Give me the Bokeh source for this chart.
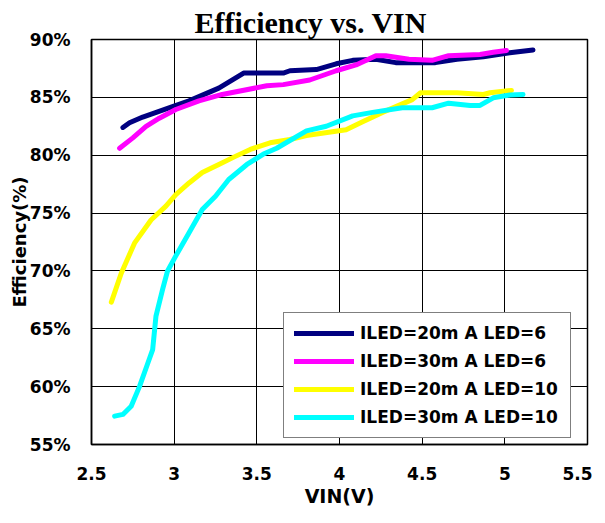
from bokeh.plotting import figure
from bokeh.models import Range1d, FixedTicker, PrintfTickFormatter, Legend, LegendItem
from bokeh.embed import file_html
from bokeh.resources import INLINE

# ---- data ----
x_20ma_6 = [2.69, 2.73, 2.81, 2.99, 3.09, 3.27, 3.42, 3.66, 3.70, 3.86, 3.98, 4.08, 4.22, 4.34, 4.58, 4.71, 4.87, 5.03, 5.17]
y_20ma_6 = [82.4, 82.8, 83.3, 84.2, 84.7, 85.8, 87.1, 87.1, 87.3, 87.4, 87.9, 88.2, 88.3, 88.0, 88.0, 88.3, 88.5, 88.85, 89.1]

x_30ma_6 = [2.67, 2.75, 2.83, 2.91, 3.01, 3.15, 3.29, 3.56, 3.66, 3.82, 3.98, 4.10, 4.22, 4.28, 4.42, 4.56, 4.66, 4.85, 4.93, 5.01]
y_30ma_6 = [80.6, 81.5, 82.5, 83.2, 83.95, 84.7, 85.25, 86.0, 86.1, 86.5, 87.3, 87.8, 88.6, 88.6, 88.3, 88.2, 88.6, 88.7, 88.9, 89.05]

x_20ma_10 = [2.62, 2.68, 2.76, 2.86, 2.95, 3.01, 3.09, 3.17, 3.27, 3.37, 3.46, 3.58, 3.70, 3.80, 4.04, 4.14, 4.26, 4.44, 4.49, 4.71, 4.87, 4.91, 5.04]
y_20ma_10 = [67.3, 69.8, 72.4, 74.4, 75.6, 76.6, 77.6, 78.5, 79.2, 79.9, 80.5, 81.07, 81.36, 81.7, 82.2, 82.9, 83.7, 84.8, 85.4, 85.4, 85.25, 85.4, 85.6]

x_30ma_10 = [2.64, 2.69, 2.74, 2.79, 2.84, 2.87, 2.89, 2.93, 2.96, 3.01, 3.09, 3.17, 3.25, 3.33, 3.44, 3.54, 3.62, 3.80, 3.92, 4.08, 4.20, 4.38, 4.56, 4.66, 4.79, 4.85, 4.93, 5.03, 5.11]
y_30ma_10 = [57.45, 57.6, 58.3, 60.0, 62.0, 63.2, 66.1, 68.4, 70.0, 71.3, 73.3, 75.3, 76.45, 77.9, 79.2, 80.1, 80.6, 82.1, 82.5, 83.4, 83.7, 84.1, 84.1, 84.5, 84.3, 84.3, 84.96, 85.2, 85.25]

series_labels = ["ILED=20m A LED=6", "ILED=30m A LED=6", "ILED=20m A LED=10", "ILED=30m A LED=10"]
series_colors = ["#000080", "#FF00FF", "#FFFF00", "#00FFFF"]

x_ticks = [2.5, 3, 3.5, 4, 4.5, 5, 5.5]
y_ticks = [55, 60, 65, 70, 75, 80, 85, 90]

SANS = "DejaVu Sans"

p = figure(frame_width=496, frame_height=405,
           min_border_left=91, min_border_right=5, min_border_top=39, min_border_bottom=63,
           output_backend="svg", toolbar_location=None,
           x_range=Range1d(2.5, 5.5), y_range=Range1d(55, 90),
           title="Efficiency vs. VIN")

p.title.text_font = "Liberation Serif"
p.title.text_font_size = "30px"
p.title.text_font_style = "bold"
p.title.align = "left"
p.title.offset = 103
p.title.standoff = 0
p.title.vertical_align = "middle"
p.title.text_color = "black"

p.outline_line_color = "black"
p.outline_line_width = 1.5

for ax in (p.xaxis[0], p.yaxis[0]):
    ax.major_tick_in = 0
    ax.major_tick_out = 0
    ax.minor_tick_in = 0
    ax.minor_tick_out = 0
    ax.axis_line_color = "black"
    ax.axis_line_width = 1.5
    ax.major_label_text_font = SANS
    ax.major_label_text_font_style = "bold"
    ax.major_label_text_font_size = "17px"
    ax.major_label_text_color = "black"
    ax.axis_label_text_font = SANS
    ax.axis_label_text_font_style = "bold"
    ax.axis_label_text_color = "black"

p.xaxis.ticker = FixedTicker(ticks=x_ticks)
p.yaxis.ticker = FixedTicker(ticks=y_ticks)
p.xaxis.formatter = PrintfTickFormatter(format="%g")
p.yaxis.formatter = PrintfTickFormatter(format="%d%%")
p.xaxis.axis_label = "VIN(V)"
p.yaxis.axis_label = "Efficiency(%)"
p.xaxis.axis_label_text_font_size = "19px"
p.yaxis.axis_label_text_font_size = "18px"
p.xaxis.major_label_standoff = 22
p.yaxis.major_label_standoff = 21
p.xaxis.axis_label_standoff = 2
p.yaxis.axis_label_standoff = -3

p.xgrid.grid_line_color = "black"
p.ygrid.grid_line_color = "black"
p.xgrid.grid_line_width = 1
p.ygrid.grid_line_width = 1

xs = [x_20ma_6, x_30ma_6, x_20ma_10, x_30ma_10]
ys = [y_20ma_6, y_30ma_6, y_20ma_10, y_30ma_10]
items = []
for xv, yv, lab, col in zip(xs, ys, series_labels, series_colors):
    r = p.line(xv, yv, line_color=col, line_width=5, line_cap="round", line_join="round")
    items.append(LegendItem(label=lab, renderers=[r]))

legend = Legend(items=items, location=(192, 6))
legend.border_line_color = "black"
legend.border_line_width = 1
legend.background_fill_color = "white"
legend.background_fill_alpha = 1
legend.label_text_font = SANS
legend.label_text_font_style = "bold"
legend.label_text_font_size = "17px"
legend.label_text_color = "black"
legend.glyph_width = 60
legend.glyph_height = 20
legend.label_height = 20
legend.label_width = 200
legend.label_standoff = 6
legend.spacing = 8
legend.padding = 10
legend.margin = 0
p.add_layout(legend, "center")

open("out.html", "w").write(file_html(p, INLINE))
